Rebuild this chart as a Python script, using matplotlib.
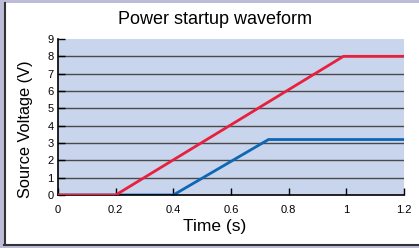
import matplotlib
matplotlib.use("Agg")
import matplotlib.pyplot as plt
from matplotlib.patches import Rectangle
from matplotlib.lines import Line2D

plt.rcParams['font.family'] = ['Liberation Sans', 'DejaVu Sans']

red_t = [0, 0.2, 0.99, 1.2]
red_v = [0, 0, 8, 8]
blue_t = [0, 0.4, 0.73, 1.2]
blue_v = [0, 0, 3.2, 3.2]
xticks = [0, 0.2, 0.4, 0.6, 0.8, 1.0, 1.2]
xticklabels = ['0', '0.2', '0.4', '0.6', '0.8', '1', '1.2']
yticks = list(range(10))

W, H = 419, 248
fig = plt.figure(figsize=(W/100, H/100), dpi=100)
fig.patch.set_facecolor('#bdbdd7')
panel = Rectangle((4/W, 3/H), 1 - 4/W, 1 - 6/H, transform=fig.transFigure,
                  facecolor='white', edgecolor='none', zorder=0)
fig.add_artist(panel)
fig.add_artist(Line2D([4.5/W, 4.5/W], [3/H, 1 - 3/H], transform=fig.transFigure, color='#333333', lw=1.5))
fig.add_artist(Line2D([4/W, 1], [3.5/H, 3.5/H], transform=fig.transFigure, color='#333333', lw=1.5))

ax = fig.add_axes([58/W, 1 - 195/H, (404 - 58)/W, (195 - 39)/H])
ax.set_facecolor('#c8d5ec')
ax.set_xlim(0, 1.2)
ax.set_ylim(0, 9)
for y in range(1, 9):
    ax.axhline(y, color='#4a4a4a', lw=1.0, zorder=1)
ax.plot(red_t, red_v, color='#e8203e', lw=2.0, zorder=3, solid_capstyle='butt')
ax.plot(blue_t, blue_v, color='#0c67b4', lw=2.0, zorder=2, solid_capstyle='butt')

ax.set_xticks(xticks)
ax.set_xticklabels(xticklabels)
ax.set_yticks(yticks)
ax.tick_params(direction='in', length=5, width=1, labelsize=8, colors='black', pad=7)
ax.tick_params(axis='y', pad=3)
for s in ['top', 'right']:
    ax.spines[s].set_visible(False)
ax.spines['left'].set_linewidth(1.2)
ax.spines['bottom'].set_linewidth(1.2)

ax.set_xlabel('Time (s)', fontsize=12.5, va='center')
ax.xaxis.set_label_coords(0.454, -0.205)
ax.set_ylabel('Source Voltage (V)', fontsize=11.8, va='center')
ax.yaxis.set_label_coords(-0.095, 0.423)
fig.text(215/W, 1 - 20/H, 'Power startup waveform', fontsize=13, ha='center', va='center')

fig.savefig('out.png', dpi=100, facecolor=fig.get_facecolor())
